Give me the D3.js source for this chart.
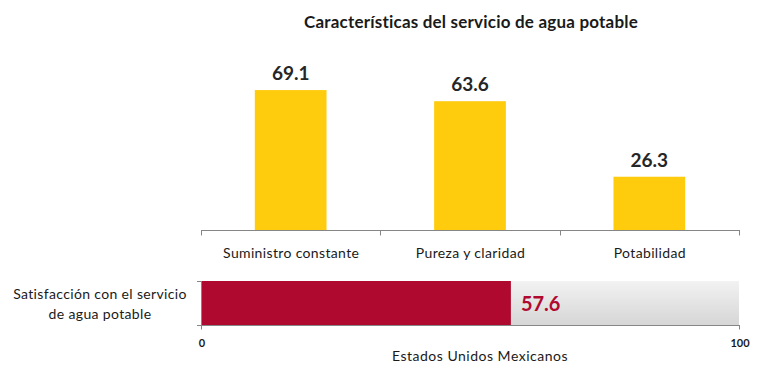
<!DOCTYPE html>
<html><head><meta charset="utf-8">
<script src="https://cdn.jsdelivr.net/npm/d3@7"></script>
<style>body{margin:0;background:#fff}svg{display:block}text{font-family:Lato,"Open Sans",sans-serif}</style>
</head><body>
<script>
const title = "Características del servicio de agua potable";
const categories = ["Suministro constante", "Pureza y claridad", "Potabilidad"];
const values = [69.1, 63.6, 26.3];
const satisfactionLabel = ["Satisfacción con el servicio", "de agua potable"];
const satisfactionValue = 57.6;
const satisfactionMax = 100;
const bottomTicks = [0, 100];
const bottomAxisTitle = "Estados Unidos Mexicanos";

const W = 768, H = 378;
const svg = d3.select("body").append("svg").attr("width", W).attr("height", H);
const left = 201, right = 739;

svg.append("text").attr("x", 471).attr("y", 28).attr("text-anchor", "middle")
  .attr("font-size", 17).attr("letter-spacing", 0.2).attr("font-weight", "bold").attr("fill", "#1a1a1a").text(title);

// Top bar chart
const x = d3.scaleBand().domain(categories).range([left, right]).paddingInner(0.6).paddingOuter(0.3);
const y = d3.scaleLinear().domain([0, 80]).range([230, 68]);

svg.append("g").selectAll("rect").data(values).join("rect")
  .attr("x", (d, i) => x(categories[i])).attr("width", x.bandwidth())
  .attr("y", d => y(d)).attr("height", d => y(0) - y(d)).attr("fill", "#FFCB0D");

svg.append("g").selectAll("text").data(values).join("text")
  .attr("x", (d, i) => x(categories[i]) + x.bandwidth() / 2).attr("y", d => y(d) - 10)
  .attr("text-anchor", "middle").attr("font-size", 19).attr("font-weight", "bold").attr("fill", "#262626")
  .text(d => d.toFixed(1));

const catAxis = d3.scaleBand().domain(categories).range([left + 0.5, right + 0.5]);
const gx = svg.append("g").attr("transform", `translate(0,${y(0) + 0.5})`);
gx.append("line").attr("x1", left).attr("x2", right + 1).attr("stroke", "#868686");
const edges = d3.range(categories.length + 1).map(i => left + 0.5 + i * catAxis.step());
gx.selectAll("line.t").data(edges).join("line").attr("class", "t")
  .attr("x1", d => Math.round(d - 0.5) + 0.5).attr("x2", d => Math.round(d - 0.5) + 0.5).attr("y1", 0).attr("y2", 5).attr("stroke", "#868686");
gx.selectAll("text").data(categories).join("text")
  .attr("x", d => catAxis(d) + catAxis.bandwidth() / 2).attr("y", 27).attr("text-anchor", "middle")
  .attr("font-size", 14).attr("letter-spacing", 0.35).attr("fill", "#1a1a1a").text(d => d);

// Bottom satisfaction bar
const xs = d3.scaleLinear().domain([0, satisfactionMax]).range([left, right]);
const top2 = 281, bot2 = 325;
const defs = svg.append("defs");
const grad = defs.append("linearGradient").attr("id", "gbg").attr("x1", 0).attr("x2", 0).attr("y1", 0).attr("y2", 1);
grad.append("stop").attr("offset", "0%").attr("stop-color", "#F2F2F2");
grad.append("stop").attr("offset", "100%").attr("stop-color", "#D6D6D6");

svg.append("rect").attr("x", xs(0)).attr("y", top2).attr("width", xs(satisfactionMax) - xs(0)).attr("height", bot2 - top2).attr("fill", "url(#gbg)");
svg.append("rect").attr("x", xs(0)).attr("y", top2).attr("width", xs(satisfactionValue) - xs(0)).attr("height", bot2 - top2).attr("fill", "#B0092F");
svg.append("text").attr("x", xs(satisfactionValue) + 10).attr("y", 311).attr("font-size", 20).attr("font-weight", "bold")
  .attr("fill", "#B0092F").text(satisfactionValue.toFixed(1));

// left axis of bottom bar
svg.append("line").attr("x1", left + 0.5).attr("x2", left + 0.5).attr("y1", top2).attr("y2", bot2 + 4).attr("stroke", "#868686");
[top2, bot2].forEach(v => svg.append("line").attr("x1", left - 4).attr("x2", left + 0.5).attr("y1", v + 0.5).attr("y2", v + 0.5).attr("stroke", "#868686"));
// bottom axis
const gb = svg.append("g").attr("transform", `translate(0,${bot2 + 0.5})`);
gb.append("line").attr("x1", left).attr("x2", right + 1).attr("stroke", "#868686");
gb.selectAll("line.t").data(bottomTicks).join("line").attr("class", "t")
  .attr("x1", d => Math.round(xs(d)) + 0.5).attr("x2", d => Math.round(xs(d)) + 0.5).attr("y1", 0).attr("y2", 4).attr("stroke", "#868686");
gb.selectAll("text").data(bottomTicks).join("text")
  .attr("x", d => xs(d) + 1).attr("y", 21).attr("text-anchor", "middle").attr("font-size", 11).attr("font-weight", "bold")
  .attr("fill", "#1a1a1a").text(d => d);
svg.append("text").attr("x", 480).attr("y", 361).attr("text-anchor", "middle").attr("font-size", 14).attr("letter-spacing", 0.5).attr("fill", "#1a1a1a").text(bottomAxisTitle);

svg.append("g").selectAll("text").data(satisfactionLabel).join("text")
  .attr("x", 100).attr("y", (d, i) => 299 + i * 20).attr("text-anchor", "middle").attr("font-size", 14).attr("letter-spacing", 0.35).attr("fill", "#1a1a1a").text(d => d);
</script>
</body></html>
